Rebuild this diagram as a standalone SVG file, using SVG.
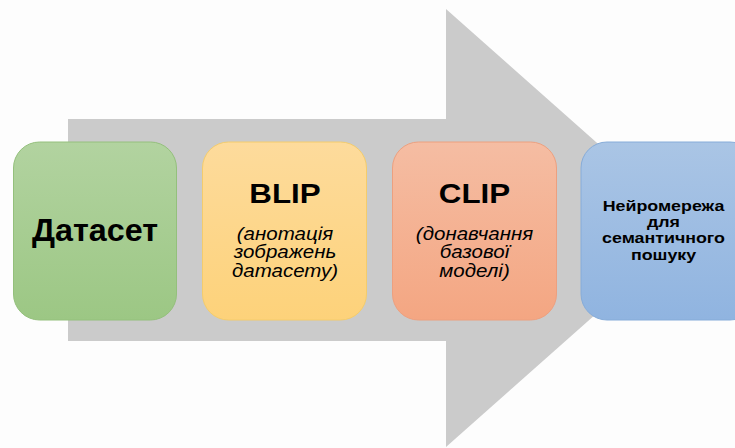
<svg xmlns="http://www.w3.org/2000/svg" width="735" height="448" viewBox="0 0 735 448">
  <defs>
    <linearGradient id="gGreen" x1="0" y1="0" x2="0" y2="1">
      <stop offset="0" stop-color="#b2d3a0"/>
      <stop offset="1" stop-color="#9cc784"/>
    </linearGradient>
    <linearGradient id="gYellow" x1="0" y1="0" x2="0" y2="1">
      <stop offset="0" stop-color="#fddb9c"/>
      <stop offset="1" stop-color="#fdd27a"/>
    </linearGradient>
    <linearGradient id="gOrange" x1="0" y1="0" x2="0" y2="1">
      <stop offset="0" stop-color="#f5bda3"/>
      <stop offset="1" stop-color="#f4a682"/>
    </linearGradient>
    <linearGradient id="gBlue" x1="0" y1="0" x2="0" y2="1">
      <stop offset="0" stop-color="#aac5e5"/>
      <stop offset="1" stop-color="#90b4e0"/>
    </linearGradient>
    <style>
      .box { stroke-width: 1; }
      .title { font-family: "Liberation Sans", Arial, sans-serif; font-weight: bold; fill: #000; text-anchor: middle; }
      .note { font-family: "Liberation Sans", Arial, sans-serif; font-style: italic; font-size: 18px; fill: #000; text-anchor: middle; }
      .small { font-family: "Liberation Sans", Arial, sans-serif; font-weight: bold; font-size: 15.5px; fill: #000; text-anchor: middle; }
    </style>
  </defs>

  <rect width="735" height="448" fill="#fdfdfd"/>

  <!-- big process arrow behind the stages -->
  <g id="connectors">
    <polygon points="68,119 446,119 446,9 693,228 446,447 446,341 68,341" fill="#cbcbcb"/>
  </g>

  <g id="dataset">
    <rect class="box" x="13.5" y="142" width="163" height="178" rx="26" fill="url(#gGreen)" stroke="#94c07c"/>
    <g transform="translate(95 0) scale(1.06 1)">
      <text class="title" x="0" y="241.5" font-size="30.5">Датасет</text>
    </g>
  </g>

  <g id="blip">
    <rect class="box" x="202.5" y="142" width="164" height="178" rx="26" fill="url(#gYellow)" stroke="#f4cc6c"/>
    <g transform="translate(285 0) scale(1.14 1)">
      <text class="title" x="0" y="203" font-size="27.5">BLIP</text>
      <text class="note" x="0" y="240">(анотація</text>
      <text class="note" x="0" y="258.5">зображень</text>
      <text class="note" x="0" y="277">датасету)</text>
    </g>
  </g>

  <g id="clip">
    <rect class="box" x="392.5" y="142" width="164" height="178" rx="26" fill="url(#gOrange)" stroke="#eda07f"/>
    <g transform="translate(474.5 0) scale(1.14 1)">
      <text class="title" x="0" y="203" font-size="27.5">CLIP</text>
      <text class="note" x="0" y="240">(донавчання</text>
      <text class="note" x="0" y="258.5">базової</text>
      <text class="note" x="0" y="277">моделі)</text>
    </g>
  </g>

  <g id="search-net">
    <rect class="box" x="581" y="142" width="175" height="178" rx="26" fill="url(#gBlue)" stroke="#86acd9"/>
    <g transform="translate(663.5 0) scale(1.15 1)">
      <text class="small" x="0" y="211">Нейромережа</text>
      <text class="small" x="0" y="227">для</text>
      <text class="small" x="0" y="243.5">семантичного</text>
      <text class="small" x="0" y="260">пошуку</text>
    </g>
  </g>
</svg>
